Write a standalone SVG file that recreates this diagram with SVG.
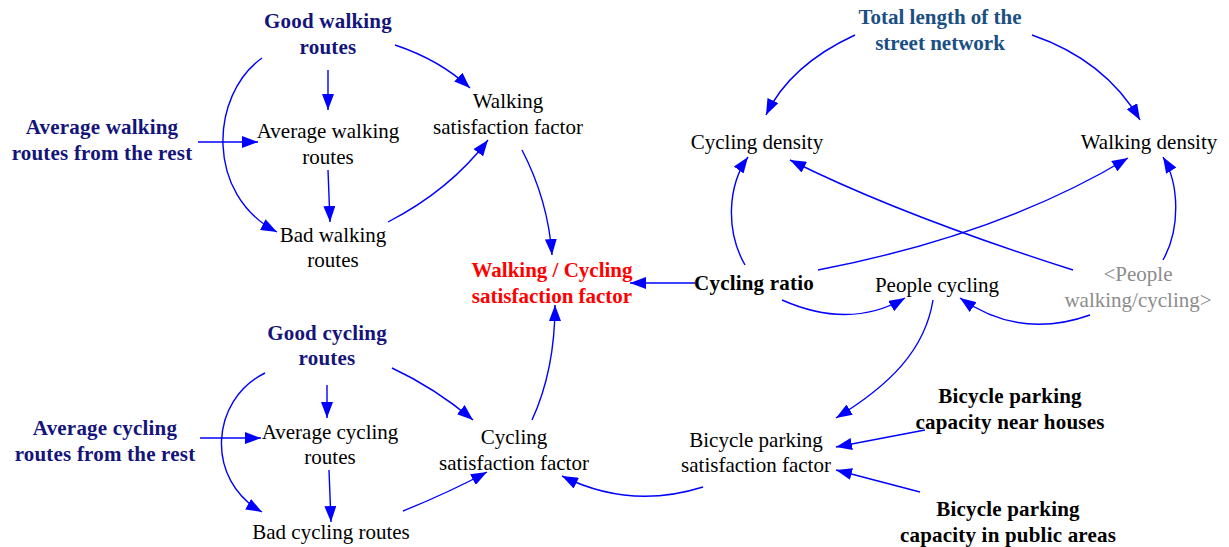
<svg xmlns="http://www.w3.org/2000/svg" width="1229" height="547" viewBox="0 0 1229 547">
  <style>
    text { font-family: "Liberation Serif", "Times New Roman", serif; font-size: 21px; text-anchor: middle; }
    .aux { fill: #000000; }
    .const { fill: #14147a; font-weight: bold; letter-spacing: 0.2px; }
    .key { fill: #000000; font-weight: bold; letter-spacing: 0.2px; }
    .street { fill: #1a4f84; font-weight: bold; }
    .out { fill: #ff0000; font-weight: bold; }
    .shadow { fill: #8c8c8c; }
    .link { fill: none; stroke: #0000ff; stroke-width: 1.4; marker-end: url(#arrow); }
  </style>
  <defs>
    <marker id="arrow" markerUnits="userSpaceOnUse" markerWidth="16" markerHeight="12" refX="16" refY="6" orient="auto">
      <path d="M0,0 L16,6 L0,12 z" fill="#0000ff"/>
    </marker>
  </defs>
  <rect width="1229" height="547" fill="#ffffff"/>

  <!-- causal links -->
  <g id="connectors">
    <path class="link" d="M395,45 Q440,60 470,88"/>
    <path class="link" d="M328,70 L328,110"/>
    <path class="link" d="M262,58 C210,95 205,195 277,232"/>
    <path class="link" d="M198,142 L258,142"/>
    <path class="link" d="M328,170 L330,222"/>
    <path class="link" d="M388,222 Q450,190 488,140"/>
    <path class="link" d="M522,150 Q548,200 552,255"/>
    <path class="link" d="M695,283 L630,283"/>
    <path class="link" d="M532,420 Q555,370 555,305"/>
    <path class="link" d="M392,368 Q435,388 473,420"/>
    <path class="link" d="M327,385 L327,418"/>
    <path class="link" d="M265,373 C210,400 205,480 262,512"/>
    <path class="link" d="M200,438 L261,438"/>
    <path class="link" d="M329,470 L331,522"/>
    <path class="link" d="M403,511 Q450,492 487,472"/>
    <path class="link" d="M703,487 Q630,510 562,476"/>
    <path class="link" d="M933,300 C925,350 890,385 836,418"/>
    <path class="link" d="M925,430 L836,447"/>
    <path class="link" d="M920,492 L836,470"/>
    <path class="link" d="M782,300 Q850,330 905,298"/>
    <path class="link" d="M1090,315 Q1020,340 960,298"/>
    <path class="link" d="M745,265 C725,230 728,185 748,157"/>
    <path class="link" d="M818,270 Q1000,235 1128,158"/>
    <path class="link" d="M1073,270 Q900,215 790,160"/>
    <path class="link" d="M1163,260 C1180,230 1180,185 1163,157"/>
    <path class="link" d="M855,35 Q790,65 766,115"/>
    <path class="link" d="M1032,35 Q1105,60 1140,120"/>
  </g>

  <!-- walking sector -->
  <g id="good-walking-routes"><text class="const" x="328" y="28">Good walking</text><text class="const" x="328" y="54">routes</text></g>
  <g id="avg-walking-from-rest"><text class="const" x="102" y="134">Average walking</text><text class="const" x="102" y="160">routes from the rest</text></g>
  <g id="avg-walking-routes"><text class="aux" x="328" y="138">Average walking</text><text class="aux" x="328" y="164">routes</text></g>
  <g id="walking-satisfaction"><text class="aux" x="508" y="108">Walking</text><text class="aux" x="508" y="134">satisfaction factor</text></g>
  <g id="bad-walking-routes"><text class="aux" x="333" y="242">Bad walking</text><text class="aux" x="333" y="267">routes</text></g>

  <!-- combined output -->
  <g id="walking-cycling-satisfaction"><text class="out" x="552" y="277">Walking / Cycling</text><text class="out" x="552" y="303">satisfaction factor</text></g>

  <!-- density sector -->
  <g id="total-street-length"><text class="street" x="940" y="24">Total length of the</text><text class="street" x="940" y="50">street network</text></g>
  <g id="cycling-density"><text class="aux" x="757" y="149">Cycling density</text></g>
  <g id="walking-density"><text class="aux" x="1149" y="149">Walking density</text></g>
  <g id="cycling-ratio"><text class="key" x="754" y="290">Cycling ratio</text></g>
  <g id="people-cycling"><text class="aux" x="937" y="292">People cycling</text></g>
  <g id="people-walking-cycling"><text class="shadow" x="1138" y="281">&lt;People</text><text class="shadow" x="1138" y="307">walking/cycling&gt;</text></g>

  <!-- cycling sector -->
  <g id="good-cycling-routes"><text class="const" x="327" y="340">Good cycling</text><text class="const" x="327" y="365">routes</text></g>
  <g id="avg-cycling-from-rest"><text class="const" x="105" y="435">Average cycling</text><text class="const" x="105" y="461">routes from the rest</text></g>
  <g id="avg-cycling-routes"><text class="aux" x="330" y="439">Average cycling</text><text class="aux" x="330" y="464">routes</text></g>
  <g id="cycling-satisfaction"><text class="aux" x="514" y="444">Cycling</text><text class="aux" x="514" y="470">satisfaction factor</text></g>
  <g id="bad-cycling-routes"><text class="aux" x="331" y="539">Bad cycling routes</text></g>

  <!-- bicycle parking -->
  <g id="parking-satisfaction"><text class="aux" x="756" y="447">Bicycle parking</text><text class="aux" x="756" y="472">satisfaction factor</text></g>
  <g id="parking-near-houses"><text class="key" x="1010" y="403">Bicycle parking</text><text class="key" x="1010" y="429">capacity near houses</text></g>
  <g id="parking-public-areas"><text class="key" x="1008" y="516">Bicycle parking</text><text class="key" x="1008" y="542">capacity in public areas</text></g>
</svg>
